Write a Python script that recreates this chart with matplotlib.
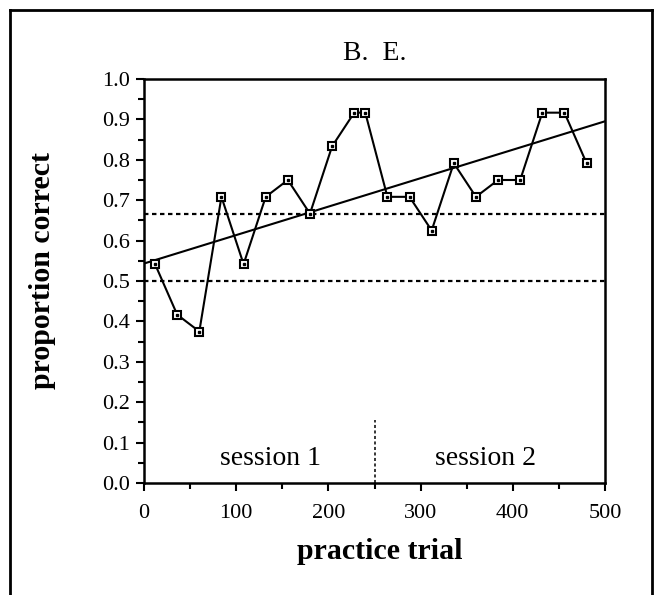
import numpy as np
import matplotlib
matplotlib.use("Agg")
import matplotlib.pyplot as plt
from matplotlib.ticker import MultipleLocator
from matplotlib.lines import Line2D

# practice trial blocks and proportion correct (counts out of 24)
trials = [12, 36, 60, 84, 108, 132, 156, 180, 204, 228, 240,
          264, 288, 312, 336, 360, 384, 408, 432, 456, 480]
n_correct = [13, 10, 9, 17, 13, 17, 18, 16, 20, 22, 22,
             17, 17, 15, 19, 17, 18, 18, 22, 22, 19]
prop_correct = [c / 24 for c in n_correct]

ref_levels = [0.5, 2 / 3]
session_break = 250
session_labels = ["session 1", "session 2"]
session_label_x = [137, 370]

plt.rcParams['font.family'] = ['Liberation Serif', 'DejaVu Serif']

fig = plt.figure(figsize=(6.6, 5.95), dpi=100)
ax = fig.add_axes([144 / 660, 1 - 483 / 595, (605 - 144) / 660, (483 - 79) / 595])

# outer box (open at the bottom)
fx0, fx1, fy1 = 10 / 660, 652 / 660, 1 - 10 / 595
for xs, ys in [([fx0, fx0], [0, fy1]), ([fx0, fx1], [fy1, fy1]), ([fx1, fx1], [fy1, 0])]:
    fig.add_artist(Line2D(xs, ys, transform=fig.transFigure, color='black', lw=2))

# regression line
slope, intercept = np.polyfit(trials, prop_correct, 1)
xfit = np.array([0, 500])
ax.plot(xfit, intercept + slope * xfit, color='black', lw=1.5, zorder=2)

for lvl in ref_levels:
    ax.axhline(lvl, color='black', lw=1.6, linestyle=(0, (2, 1.6)), zorder=1)

ax.plot([session_break, session_break], [0, 0.155], color='black', lw=1.1,
        linestyle=(0, (2, 1.6)))

ax.plot(trials, prop_correct, color='black', lw=1.5, marker='s', markersize=5.5,
        markerfacecolor='white', markeredgecolor='black', markeredgewidth=1.5, zorder=3)
ax.plot(trials, prop_correct, linestyle='none', marker='s', markersize=1.5,
        color='black', zorder=4)

for lab, xx in zip(session_labels, session_label_x):
    ax.text(xx, 0.045, lab, ha='center', va='baseline', fontsize=20)

ax.set_xlim(0, 500)
ax.set_ylim(0, 1.0)
ax.xaxis.set_major_locator(MultipleLocator(100))
ax.xaxis.set_minor_locator(MultipleLocator(50))
ax.yaxis.set_major_locator(MultipleLocator(0.1))
ax.yaxis.set_minor_locator(MultipleLocator(0.05))
ax.yaxis.set_major_formatter(plt.FuncFormatter(lambda v, p: f"{v:.1f}"))
ax.tick_params(which='major', direction='out', length=6, width=1.5, labelsize=16, pad=4)
ax.tick_params(axis='x', which='major', pad=9)
ax.tick_params(which='minor', direction='out', length=4, width=1.5)
for sp in ax.spines.values():
    sp.set_linewidth(1.8)

ax.set_title("B.  E.", fontsize=20, pad=14)
ax.set_xlabel("practice trial", fontsize=21.5, fontweight='bold')
ax.set_ylabel("proportion correct", fontsize=21.5, fontweight='bold')
ax.xaxis.set_label_coords(0.512, -0.135)
ax.yaxis.set_label_coords(-0.19, 0.527)

fig.savefig("out.png", dpi=100)
